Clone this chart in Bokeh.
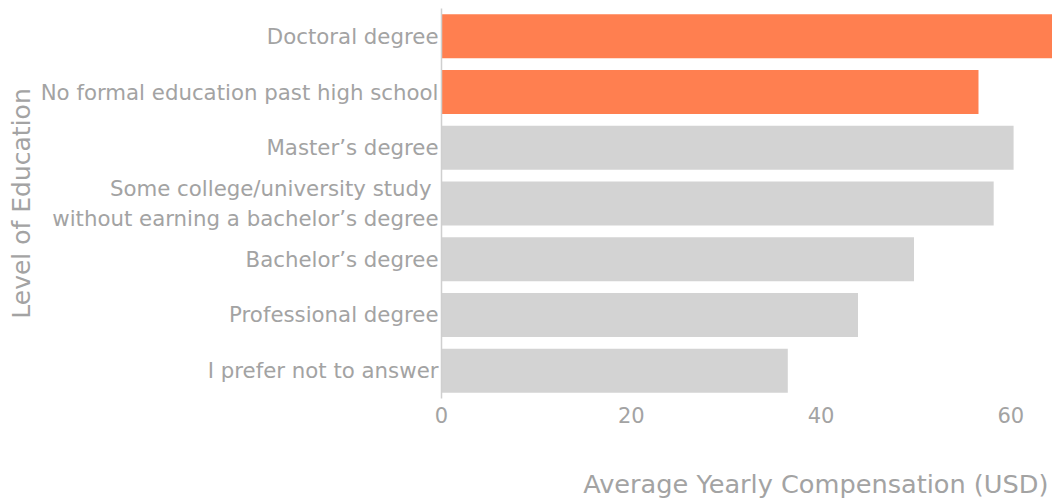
from bokeh.plotting import figure
from bokeh.models import ColumnDataSource, FactorRange, Range1d, FixedTicker, Title
from bokeh.embed import file_html
from bokeh.resources import INLINE

categories = [
    "Doctoral degree",
    "No formal education past high school",
    "Master\u2019s degree",
    "Some college/university study \nwithout earning a bachelor\u2019s degree",
    "Bachelor\u2019s degree",
    "Professional degree",
    "I prefer not to answer",
]
compensation = [66.0, 56.6, 60.3, 58.2, 49.8, 43.9, 36.5]
highlighted = ["Doctoral degree", "No formal education past high school"]
x_ticks = [0, 20, 40, 60]
x_max = 64.4

FONT = "DejaVu Sans"
TEXT = "#a3a3a3"
colors = ["#ff7f50" if c in highlighted else "#d3d3d3" for c in categories]

source = ColumnDataSource(dict(cat=categories, val=compensation, color=colors))

p = figure(
    width=1052, height=498,
    y_range=FactorRange(*reversed(categories), range_padding=0),
    x_range=Range1d(0, x_max),
    output_backend="svg", toolbar_location=None,
    min_border_left=441, min_border_right=0, min_border_top=8, min_border_bottom=0,
)
p.hbar(y="cat", right="val", left=0, height=0.79, color="color", source=source, line_color=None)

p.outline_line_color = None
p.grid.grid_line_color = None
p.background_fill_color = "white"

# x axis
p.xaxis.ticker = FixedTicker(ticks=x_ticks)
p.xaxis.axis_line_color = None
p.xaxis.major_tick_line_color = None
p.xaxis.minor_tick_line_color = None
p.xaxis.major_tick_out = 0
p.xaxis.minor_tick_out = 0
p.xaxis.major_label_text_font = FONT
p.xaxis.major_label_text_font_size = "21px"
p.xaxis.major_label_text_color = TEXT
p.xaxis.major_label_standoff = 8

# y axis
p.yaxis.axis_line_color = "#cfcfcf"
p.yaxis.axis_line_width = 1.5
p.yaxis.major_tick_line_color = None
p.yaxis.minor_tick_line_color = None
p.yaxis.major_tick_out = 0
p.yaxis.minor_tick_out = 0
p.yaxis.major_label_text_font = FONT
p.yaxis.major_label_text_font_size = "21.3px"
p.yaxis.major_label_text_color = TEXT
p.yaxis.major_label_standoff = 3
p.yaxis.axis_label = "Level of Education"
p.yaxis.axis_label_text_font = FONT
p.yaxis.axis_label_text_font_size = "25px"
p.yaxis.axis_label_text_font_style = "normal"
p.yaxis.axis_label_text_color = TEXT
p.yaxis.axis_label_standoff = 2

# leading empty line reserves the gap between the tick labels and the title
xtitle = Title(text="\nAverage Yearly Compensation (USD)", align="right",
               vertical_align="bottom", text_line_height=1.35,
               text_font=FONT, text_font_size="25.6px", text_font_style="normal",
               text_color=TEXT, standoff=0, offset=4)
p.add_layout(xtitle, "below")

open("out.html", "w").write(file_html(p, INLINE))
